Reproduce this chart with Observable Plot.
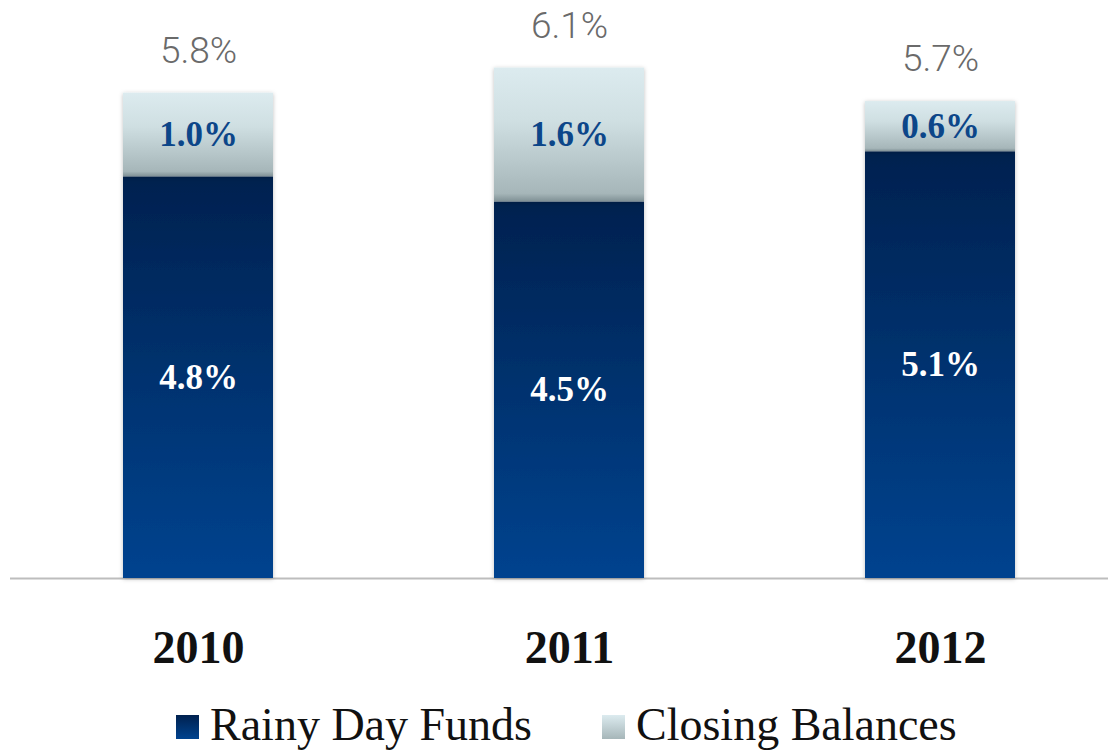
<!DOCTYPE html>
<html>
<head>
<meta charset="utf-8">
<script src="https://cdn.jsdelivr.net/npm/d3@7"></script>
<script src="https://cdn.jsdelivr.net/npm/@observablehq/plot@0.6"></script>
<style>
  html, body { margin: 0; padding: 0; background: #fff; }
  #chart { width: 1108px; }
  .legend { display: flex; align-items: center; height: 62px; padding-left: 176px;
    font-family: "Liberation Serif", "DejaVu Serif", serif; font-size: 46px; color: #111; }
  .legend .item { display: flex; align-items: center; margin-right: 70px; }
  .legend .sw { width: 23px; height: 24px; margin-right: 11px; margin-top: 6px; }
</style>
</head>
<body>
<div id="chart"></div>
<script>
const years = ["2010", "2011", "2012"];
const rainyDayFunds = [4.8, 4.5, 5.1];
const closingBalances = [1.0, 1.6, 0.6];
const totals = [5.8, 6.1, 5.7];
const seriesNames = ["Rainy Day Funds", "Closing Balances"];

const rows = [];
years.forEach((y, i) => {
  rows.push({year: y, series: seriesNames[0], y1: 0, y2: rainyDayFunds[i], value: rainyDayFunds[i]});
  rows.push({year: y, series: seriesNames[1], y1: rainyDayFunds[i], y2: rainyDayFunds[i] + closingBalances[i], value: closingBalances[i]});
});
const totalRows = years.map((y, i) => ({year: y, total: totals[i], top: rainyDayFunds[i] + closingBalances[i]}));

const defs = () => {
  const d = d3.create("svg:defs");
  const g1 = d.append("linearGradient").attr("id", "gRainy").attr("x1", 0).attr("y1", 0).attr("x2", 0).attr("y2", 1);
  g1.append("stop").attr("offset", "0%").attr("stop-color", "#00214f");
  g1.append("stop").attr("offset", "100%").attr("stop-color", "#00438f");
  const g2 = d.append("linearGradient").attr("id", "gClosing").attr("x1", 0).attr("y1", 0).attr("x2", 0).attr("y2", 1);
  g2.append("stop").attr("offset", "0%").attr("stop-color", "#dcebef");
  g2.append("stop").attr("offset", "40%").attr("stop-color", "#cfdfe2");
  g2.append("stop").attr("offset", "94%").attr("stop-color", "#a6b6b9");
  g2.append("stop").attr("offset", "100%").attr("stop-color", "#7f9095");
  const f = d.append("filter").attr("id", "shadow").attr("x", "-10%").attr("y", "-10%").attr("width", "120%").attr("height", "120%");
  f.append("feDropShadow").attr("dx", 0).attr("dy", 1).attr("stdDeviation", 2).attr("flood-color", "#000").attr("flood-opacity", 0.25);
  return d.node();
};

const chart = Plot.plot({
  width: 1108,
  height: 693,
  marginLeft: 10,
  marginRight: 0,
  marginTop: 9,
  marginBottom: 115,
  x: {domain: years, range: [47.6, 1089.4], paddingInner: 0.597, paddingOuter: 0.2, axis: null},
  y: {domain: [0, 6.8], axis: null},
  marks: [
    defs,
    Plot.ruleY([0], {stroke: "#bdbdbd", strokeWidth: 2}),
    Plot.barY(rows, {
      x: "year", y1: "y1", y2: "y2",
      fill: d => d.series === seriesNames[0] ? "url(#gRainy)" : "url(#gClosing)"
    }),
    Plot.text(rows, {
      x: "year", y: d => (d.y1 + d.y2) / 2,
      text: d => d.value.toFixed(1) + "%",
      fill: d => d.series === seriesNames[0] ? "#ffffff" : "#0c4689",
      fontFamily: "Liberation Serif, DejaVu Serif, serif",
      fontWeight: "bold",
      fontSize: 35
    }),
    Plot.text(totalRows, {
      x: "year", y: "top",
      text: d => d.total.toFixed(1) + "%",
      dy: -42,
      fill: "#6a6a6a",
      fontFamily: "Roboto, Lato, sans-serif",
      fontWeight: 300,
      fontSize: 37
    }),
    Plot.text(years, {
      x: d => d, y: () => 0,
      text: d => d,
      dy: 70,
      fill: "#111",
      fontFamily: "Liberation Serif, DejaVu Serif, serif",
      fontWeight: "bold",
      fontSize: 46
    })
  ]
});
d3.select(chart).selectAll("rect").filter(function() { const f = this.getAttribute("fill"); return f && f.startsWith("url"); }).attr("filter", "url(#shadow)");
document.getElementById("chart").appendChild(chart);

const legend = document.createElement("div");
legend.className = "legend";
legend.innerHTML = `
  <div class="item"><div class="sw" style="background:linear-gradient(#00214f,#00438f)"></div>${seriesNames[0]}</div>
  <div class="item"><div class="sw" style="background:linear-gradient(#dcebef,#a6b6b9)"></div>${seriesNames[1]}</div>`;
document.getElementById("chart").appendChild(legend);
</script>
</body>
</html>
